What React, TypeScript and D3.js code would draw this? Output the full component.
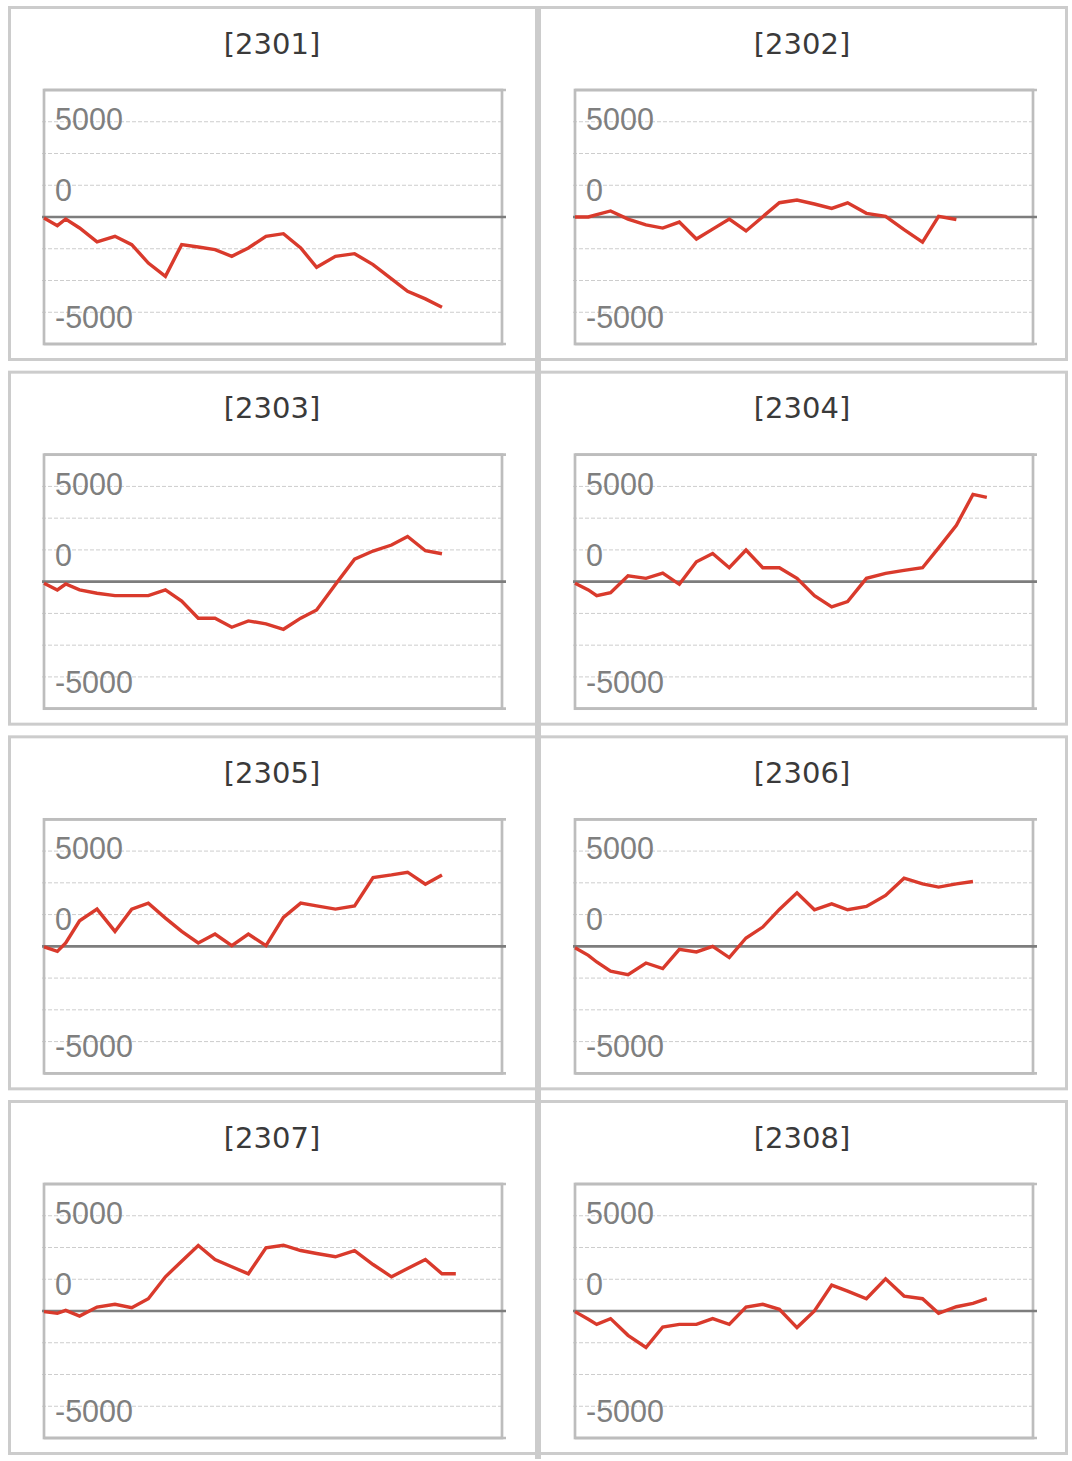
import React from 'react';
import * as d3 from 'd3';

// machine numbers shown as panel titles
const MACHINES = ['2301', '2302', '2303', '2304', '2305', '2306', '2307', '2308'];

// sampling points along the x axis (shared by every machine)
const SAMPLE_X = [
  0, 0.78, 1.27, 2.08, 3.1, 4.15, 5.13, 6.1, 7.1, 8.05, 9.02, 10, 10.98,
  11.95, 12.98, 14.0, 15.01, 15.94, 17.04, 18.16, 19.24, 20.32, 21.26, 22.3, 23.27, 24.08,
];
const X_MAX = 26.78;

// coin difference per machine
const DIFF_2301 = [-60, -545, -125, -690, -1570, -1215, -1740, -2900, -3735, -1740, -1890, -2055, -2475, -1950, -1215, -1050, -1950, -3170, -2475, -2310, -3000, -3900, -4680, -5160, -5690];
const DIFF_2302 = [0, 0, 150, 380, -135, -500, -700, -320, -1390, -765, -135, -880, 20, 900, 1070, 820, 540, 890, 230, 40, -790, -1580, 40, -160];
const DIFF_2303 = [-100, -520, -150, -520, -730, -880, -880, -880, -520, -1220, -2300, -2300, -2870, -2470, -2660, -3000, -2300, -1780, -180, 1420, 1930, 2310, 2850, 1950, 1760];
const DIFF_2304 = [-105, -520, -880, -690, 375, 210, 545, -165, 1255, 1780, 880, 1990, 880, 880, 210, -880, -1590, -1255, 210, 520, 710, 880, 2130, 3550, 5500, 5310];
const DIFF_2305 = [-40, -315, 210, 1610, 2345, 940, 2345, 2720, 1780, 940, 210, 775, 40, 775, 40, 1820, 2720, 2550, 2345, 2550, 4335, 4500, 4670, 3915, 4500];
const DIFF_2306 = [-85, -565, -985, -1570, -1780, -1050, -1400, -190, -355, 0, -710, 525, 1215, 2325, 3370, 2305, 2680, 2305, 2515, 3205, 4295, 3935, 3730, 3935, 4085];
const DIFF_2307 = [-40, -145, 40, -315, 250, 420, 210, 775, 2155, 3140, 4125, 3245, 2785, 2345, 3980, 4145, 3810, 3620, 3415, 3810, 2930, 2155, 2680, 3245, 2345, 2345];
const DIFF_2308 = [-40, -520, -840, -480, -1530, -2300, -1005, -840, -840, -480, -840, 250, 420, 105, -1045, 0, 1635, 1255, 775, 2030, 940, 775, -145, 270, 480, 775];

const SERIES = [DIFF_2301, DIFF_2302, DIFF_2303, DIFF_2304, DIFF_2305, DIFF_2306, DIFF_2307, DIFF_2308];

const Y_DOMAIN = [-8000, 8000];
const GRID_VALUES = [6000, 4000, 2000, -2000, -4000, -6000];
const Y_TICK_LABELS = ['5000', '0', '-5000'];
// label baselines, px below the plot top (the original labels sit off their grid lines)
const LABEL_BASELINES = [40, 111, 238];

const WIDTH = 1072;
const HEIGHT = 1461;
const ROW_STEP = 364.67;
const COL_STEP = 530;
const PANEL_W = 527;
const PANEL_H = 352;
const PLOT_W = 458;
const PLOT_H = 254;

const RED = '#d93a2c';

interface PanelProps {
  name: string;
  values: number[];
  col: number;
  row: number;
}

const Panel: React.FC<PanelProps> = ({ name, values, col, row }) => {
  const left = 9.5 + col * COL_STEP;
  const top = 7.5 + row * ROW_STEP;
  const px = 44 + col * 531;
  const py = 90 + row * ROW_STEP;

  const xScale = d3.scaleLinear().domain([0, X_MAX]).range([px, px + PLOT_W]);
  const yScale = d3.scaleLinear().domain(Y_DOMAIN).range([py + PLOT_H, py]);

  const line = d3.line<number>()
    .x((_, i) => xScale(SAMPLE_X[i]))
    .y(d => yScale(d));

  return (
    <g>
      <rect x={left} y={top} width={PANEL_W} height={PANEL_H}
        fill="#fff" stroke="#cccccc" strokeWidth={3} />
      <text x={left + PANEL_W / 2 - 1} y={top + 46} textAnchor="middle"
        fontFamily="'DejaVu Sans', sans-serif" fontSize={29} fill="#3a3a3a">
        [{name}]
      </text>

      {GRID_VALUES.map(v => (
        <line key={v} x1={px - 2} x2={px + PLOT_W - 1} y1={yScale(v)} y2={yScale(v)}
          stroke="#cdcdcd" strokeWidth={1} strokeDasharray="4 2" />
      ))}

      <rect x={px} y={py} width={PLOT_W} height={PLOT_H}
        fill="none" stroke="#bdbdbd" strokeWidth={2.7} />
      <line x1={px} x2={px + PLOT_W + 4} y1={yScale(Y_DOMAIN[1])} y2={yScale(Y_DOMAIN[1])}
        stroke="#bdbdbd" strokeWidth={2.7} />
      <line x1={px} x2={px + PLOT_W + 4} y1={yScale(Y_DOMAIN[0])} y2={yScale(Y_DOMAIN[0])}
        stroke="#bdbdbd" strokeWidth={2.7} />

      <line x1={px - 2} x2={px + PLOT_W + 4} y1={yScale(0)} y2={yScale(0)}
        stroke="#7d7d7d" strokeWidth={2.7} />

      {Y_TICK_LABELS.map((t, i) => (
        <text key={t} x={px + 11} y={py + LABEL_BASELINES[i]}
          fontFamily="'Liberation Sans', Arial, sans-serif" fontSize={30.5} fill="#7f7f7f">
          {t}
        </text>
      ))}

      <path d={line(values) ?? ''} fill="none" stroke={RED} strokeWidth={3.4} />
    </g>
  );
};

const App: React.FC = () => {
  return (
    <svg width={WIDTH} height={HEIGHT}
      style={{ position: 'absolute', left: 0, top: 0, display: 'block' }}>
      <rect x={0} y={0} width={WIDTH} height={HEIGHT} fill="#fff" />
      {MACHINES.map((m, i) => (
        <Panel key={m} name={m} values={SERIES[i]} col={i % 2} row={Math.floor(i / 2)} />
      ))}
      <rect x={535} y={6} width={6} height={1453} fill="#cccccc" />
    </svg>
  );
};

export default App;
